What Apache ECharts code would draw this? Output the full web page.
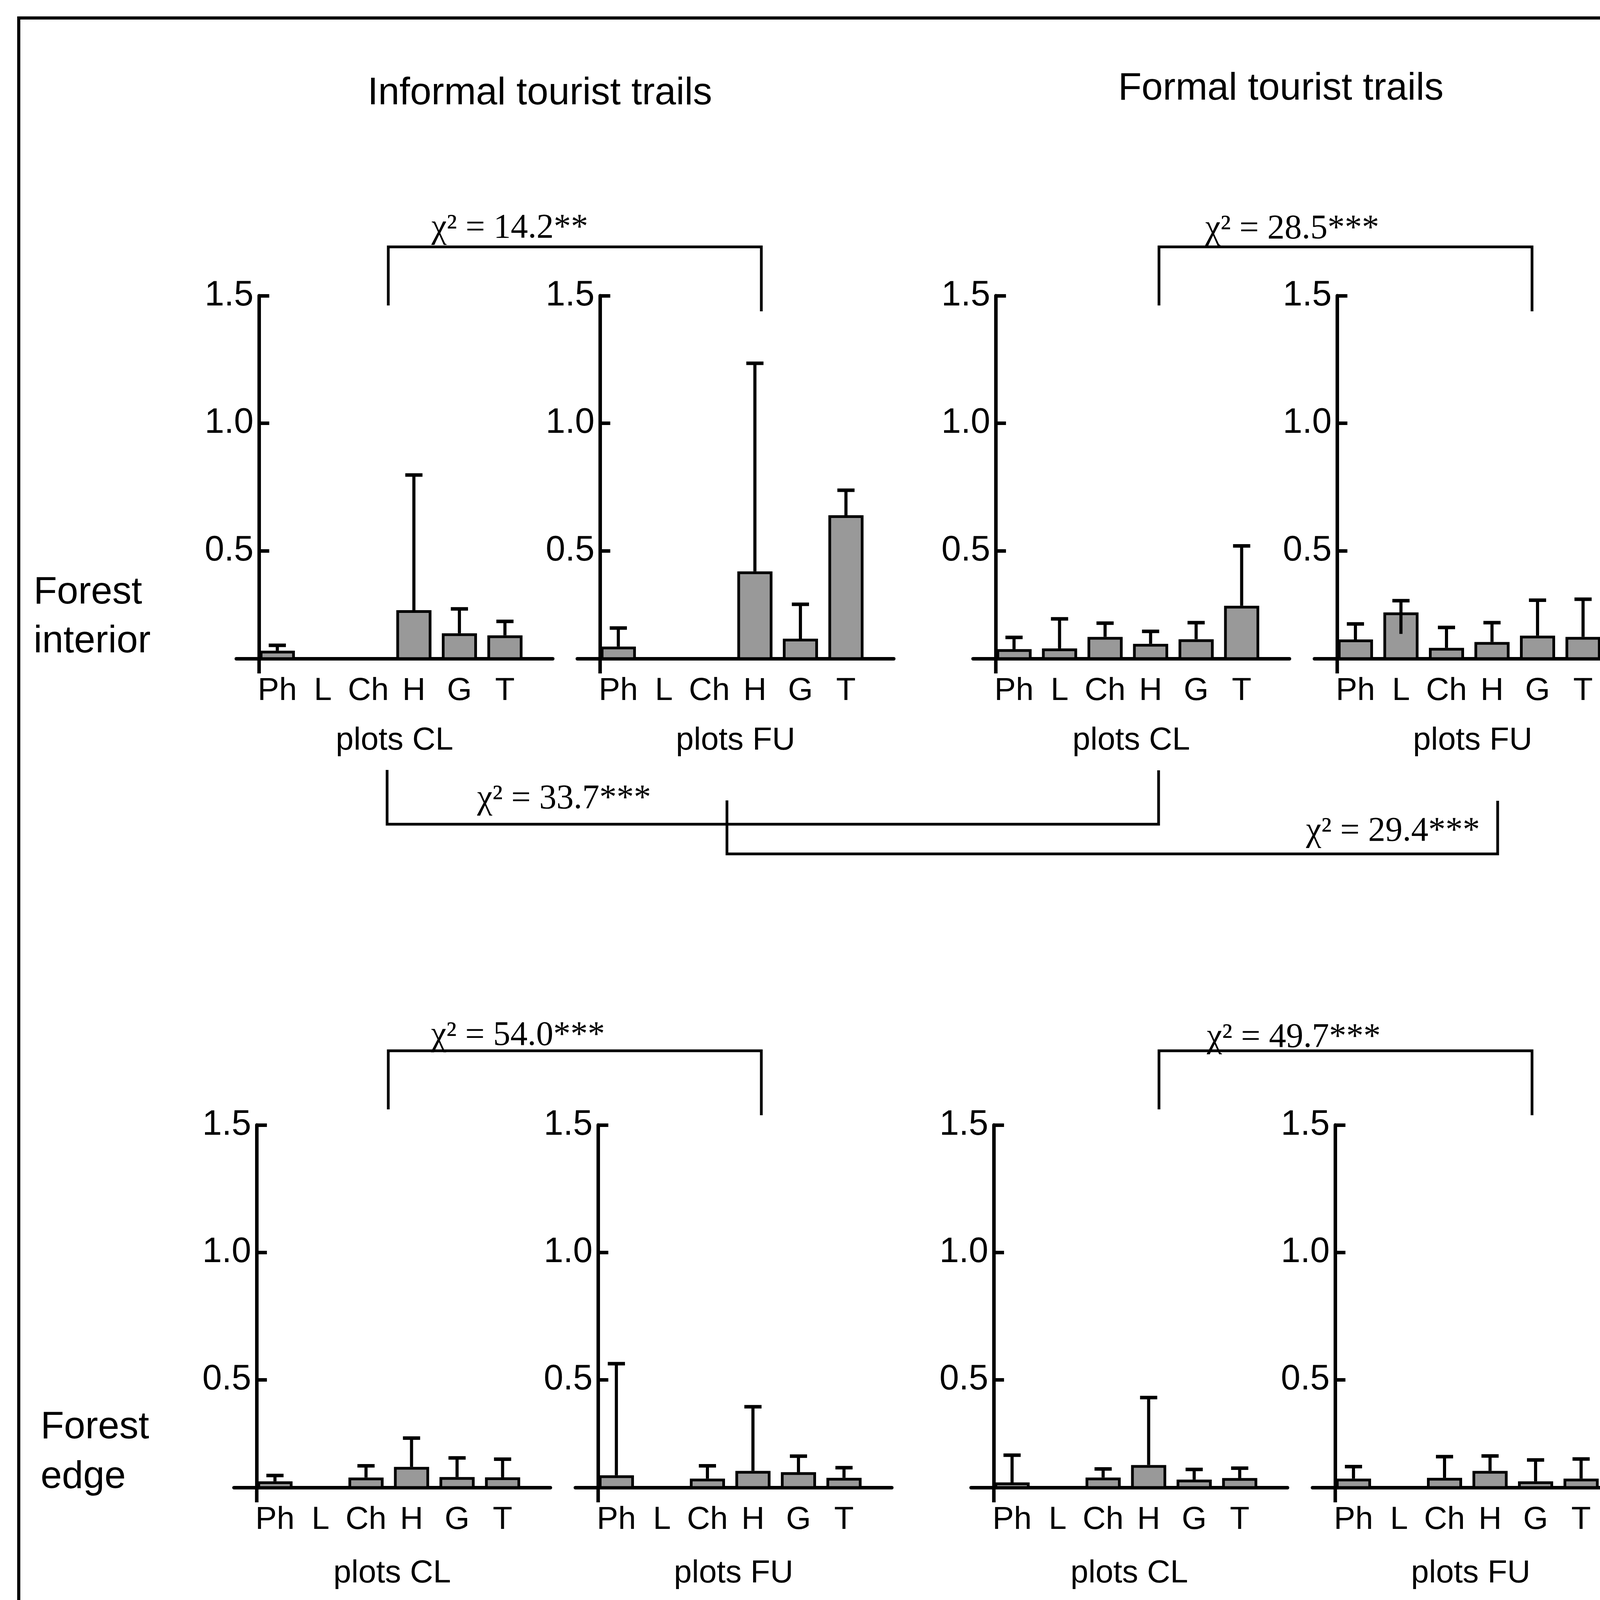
<!DOCTYPE html>
<html>
<head>
<meta charset="utf-8">
<script src="https://cdn.jsdelivr.net/npm/echarts@6/dist/echarts.min.js"></script>
<style>
html,body{margin:0;padding:0;background:#fff;}
#main{width:4292px;height:4625px;}
</style>
</head>
<body>
<div id="main"></div>
<script>
// ---------- data ----------
const categories = ['Ph', 'L', 'Ch', 'H', 'G', 'T'];
const yTickValues = [0.5, 1.0, 1.5];
const yAxisMin = 0.077;
const yAxisMax = 1.5;

// Forest interior - informal trails
const itFiCl = [0.108, null, null, 0.267, 0.176, 0.168];
const itFiClErr = [0.129, null, null, 0.797, 0.272, 0.223];
const itFiFu = [0.124, null, null, 0.419, 0.155, 0.639];
const itFiFuErr = [0.197, null, null, 1.235, 0.290, 0.737];
// Forest interior - formal trails
const ftFiCl = [0.114, 0.117, 0.162, 0.135, 0.153, 0.284];
const ftFiClErr = [0.160, 0.233, 0.216, 0.184, 0.218, 0.519];
const ftFiFu = [0.152, 0.258, 0.119, 0.142, 0.167, 0.162];
const ftFiFuErr = [0.213, 0.304, 0.199, 0.218, 0.306, 0.310];
const ftFiFuErrLow = [null, 0.174, null, null, null, null];
// Forest edge - informal trails
const itFeCl = [0.101, null, 0.116, 0.158, 0.118, 0.117];
const itFeClErr = [0.124, null, 0.162, 0.271, 0.193, 0.188];
const itFeFu = [0.125, null, 0.112, 0.142, 0.137, 0.115];
const itFeFuErr = [0.563, null, 0.162, 0.394, 0.200, 0.155];
// Forest edge - formal trails
const ftFeCl = [0.097, null, 0.116, 0.165, 0.108, 0.114];
const ftFeClErr = [0.204, null, 0.150, 0.430, 0.148, 0.153];
const ftFeFu = [0.112, null, 0.115, 0.142, 0.101, 0.112];
const ftFeFuErr = [0.159, null, 0.198, 0.201, 0.185, 0.189];

const columnTitles = ['Informal tourist trails', 'Formal tourist trails'];
const rowLabels = [['Forest', 'interior'], ['Forest', 'edge']];
const plotNames = ['plots CL', 'plots FU'];
const chiTexts = ['χ² = 14.2**', 'χ² = 28.5***', 'χ² = 33.7***', 'χ² = 29.4***',
                  'χ² = 54.0***', 'χ² = 49.7***', 'χ² = 133.9***', 'χ² = 146.0***'];

// ---------- layout ----------
const SANS = 'Liberation Sans, Arial, sans-serif';
const SERIF = 'Liberation Serif, Times New Roman, serif';
const CAT_SHIFT = 0.4;       // category centre offset from the y axis (band units)
const X_MIN = -0.5, X_MAX = 6.45;
const GRID_W = 810;
const Y_AXIS_INSET = 58;     // y axis sits this far right of the grid's left edge
const LW = 9;                // main line width
const rows = [
  {top: 757, height: 929, labelMargin: 42, nameGap: 169},
  {top: 2880, height: 928, labelMargin: 42, nameGap: 179}
];
const panels = [
  {row: 0, left: 605,  vals: itFiCl, err: itFiClErr, name: plotNames[0]},
  {row: 0, left: 1478, vals: itFiFu, err: itFiFuErr, name: plotNames[1]},
  {row: 0, left: 2491, vals: ftFiCl, err: ftFiClErr, name: plotNames[0]},
  {row: 0, left: 3365, vals: ftFiFu, err: ftFiFuErr, low: ftFiFuErrLow, name: plotNames[1]},
  {row: 1, left: 599,  vals: itFeCl, err: itFeClErr, name: plotNames[0]},
  {row: 1, left: 1473, vals: itFeFu, err: itFeFuErr, name: plotNames[1]},
  {row: 1, left: 2486, vals: ftFeCl, err: ftFeClErr, name: plotNames[0]},
  {row: 1, left: 3360, vals: ftFeFu, err: ftFeFuErr, name: plotNames[1]}
];

const catPositions = categories.map((c, i) => i + CAT_SHIFT);
const black = '#000';

const grid = [], xAxis = [], yAxis = [], series = [];
panels.forEach((p, i) => {
  const r = rows[p.row];
  grid.push({left: p.left, top: r.top, width: GRID_W, height: r.height, containLabel: false});
  xAxis.push({
    gridIndex: i, type: 'value', min: X_MIN, max: X_MAX,
    axisLine: {show: true, onZero: false, lineStyle: {color: black, width: LW}},
    axisTick: {show: false},
    splitLine: {show: false},
    axisLabel: {
      customValues: catPositions,
      formatter: v => categories[Math.round(v - CAT_SHIFT)] || '',
      fontSize: 82, fontFamily: SANS, color: black, margin: r.labelMargin
    },
    name: p.name, nameLocation: 'middle', nameGap: r.nameGap,
    nameTextStyle: {fontSize: 82, fontFamily: SANS, color: black}
  });
  yAxis.push({
    gridIndex: i, type: 'value', min: yAxisMin, max: yAxisMax,
    axisLine: {show: true, onZero: true, lineStyle: {color: black, width: LW}},
    axisTick: {show: true, inside: true, length: 26, customValues: yTickValues,
               lineStyle: {color: black, width: LW}},
    splitLine: {show: false},
    axisLabel: {customValues: yTickValues, formatter: v => v.toFixed(1),
                fontSize: 90, fontFamily: SANS, color: black, margin: 14 - Y_AXIS_INSET}
  });
  const barData = [], errData = [];
  p.vals.forEach((v, k) => {
    if (v == null) return;
    barData.push([catPositions[k], v]);
    const low = (p.low && p.low[k] != null) ? p.low[k] : v;
    errData.push([catPositions[k], v, p.err[k], low]);
  });
  series.push({
    type: 'bar', xAxisIndex: i, yAxisIndex: i, barWidth: 90, data: barData,
    itemStyle: {color: '#999999', borderColor: black, borderWidth: 7},
    silent: true, animation: false, z: 2
  });
  series.push({
    type: 'custom', xAxisIndex: i, yAxisIndex: i, data: errData, z: 3,
    silent: true, animation: false,
    encode: {x: 0, y: 1},
    renderItem: function (params, api) {
      const x = api.value(0);
      const top = api.coord([x, api.value(2)]);
      const bot = api.coord([x, api.value(3)]);
      return {type: 'group', children: [
        {type: 'line', shape: {x1: top[0], y1: top[1], x2: top[0], y2: bot[1]},
         style: {stroke: black, lineWidth: 8}},
        {type: 'line', shape: {x1: top[0] - 22, y1: top[1], x2: top[0] + 22, y2: top[1]},
         style: {stroke: black, lineWidth: 9}}
      ]};
    }
  });
  // small continuation of the y axis below the x axis, as in the original figure
  series.push({
    type: 'custom', xAxisIndex: i, yAxisIndex: i, data: [[0, yAxisMin]], z: 3,
    silent: true, animation: false, encode: {x: 0, y: 1},
    renderItem: function (params, api) {
      const pt = api.coord([api.value(0), api.value(1)]);
      return {type: 'line', shape: {x1: pt[0], y1: pt[1], x2: pt[0], y2: pt[1] + 38},
              style: {stroke: black, lineWidth: LW}};
    }
  });
});

// ---------- annotations ----------
function txt(text, x, y, size, family, align) {
  return {type: 'text', x: x, y: y, silent: true,
    style: {text: text, fontSize: size, fontFamily: family, fill: black,
            align: align || 'center', verticalAlign: 'middle'}};
}
function bracket(points) {
  return {type: 'polyline', silent: true, shape: {points: points},
    style: {stroke: black, lineWidth: 7, fill: null}};
}
const graphic = [
  {type: 'rect', silent: true, shape: {x: 48, y: 46, width: 4192, height: 4531},
   style: {fill: null, stroke: black, lineWidth: 8}},
  txt(columnTitles[0], 1382, 240, 98, SANS),
  txt(columnTitles[1], 3279, 228, 98, SANS),
  txt(rowLabels[0][0], 86, 1518, 98, SANS, 'left'),
  txt(rowLabels[0][1], 86, 1643, 98, SANS, 'left'),
  txt(rowLabels[1][0], 104, 3655, 98, SANS, 'left'),
  txt(rowLabels[1][1], 104, 3782, 98, SANS, 'left'),
  txt(chiTexts[0], 1305, 585, 88, SERIF),
  txt(chiTexts[1], 3308, 587, 88, SERIF),
  txt(chiTexts[2], 1444, 2046, 88, SERIF),
  txt(chiTexts[3], 3566, 2129, 88, SERIF),
  txt(chiTexts[4], 1326, 2652, 88, SERIF),
  txt(chiTexts[5], 3312, 2657, 88, SERIF),
  txt(chiTexts[6], 1468, 4192, 88, SERIF),
  txt(chiTexts[7], 3589, 4271, 88, SERIF),
  bracket([[994, 782], [994, 632], [1949, 632], [1949, 797]]),
  bracket([[2967, 782], [2967, 632], [3922, 632], [3922, 797]]),
  bracket([[991, 1971], [991, 2110], [2966, 2110], [2966, 1972]]),
  bracket([[1861, 2049], [1861, 2186], [3834, 2186], [3834, 2050]]),
  bracket([[994, 2840], [994, 2690], [1949, 2690], [1949, 2855]]),
  bracket([[2967, 2840], [2967, 2690], [3922, 2690], [3922, 2855]]),
  bracket([[991, 4112], [991, 4252], [2965, 4252], [2965, 4113]]),
  bracket([[1861, 4188], [1861, 4326], [3832, 4326], [3832, 4190]])
];

const chart = echarts.init(document.getElementById('main'), null, {renderer: 'canvas'});
chart.setOption({
  backgroundColor: '#ffffff',
  animation: false,
  grid: grid, xAxis: xAxis, yAxis: yAxis, series: series, graphic: graphic
});
</script>
</body>
</html>
